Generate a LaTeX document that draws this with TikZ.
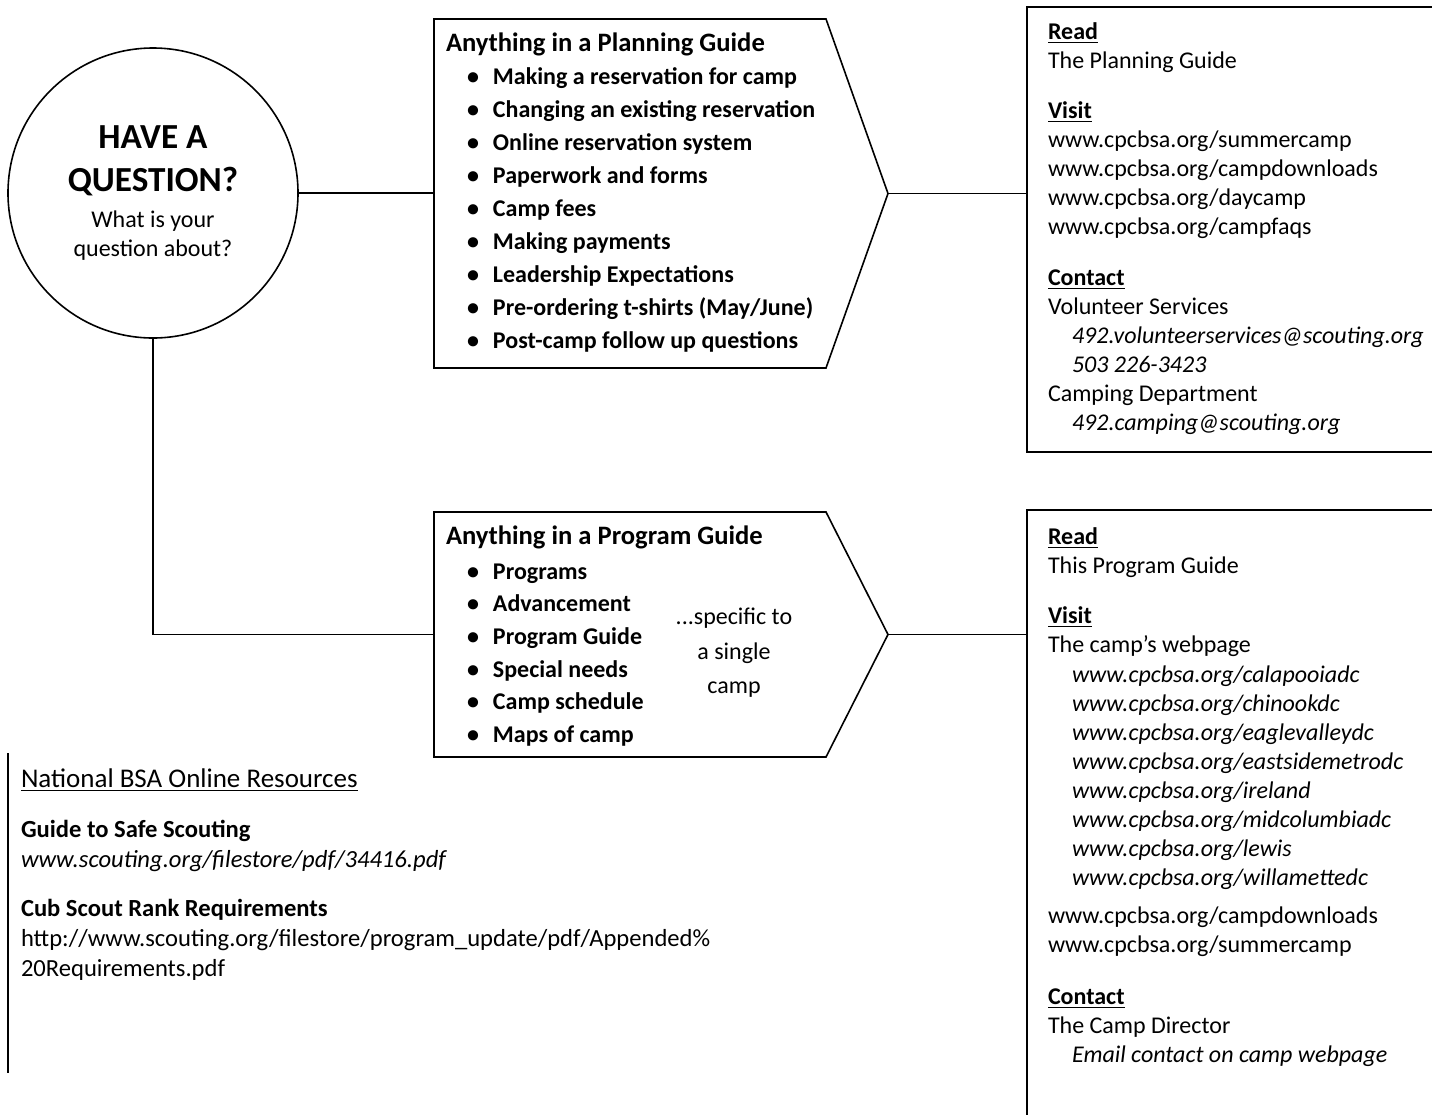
\documentclass[tikz,border=0pt]{standalone}
\usepackage{fontspec}
\setmainfont{Carlito}
\usetikzlibrary{positioning}

\newcommand{\bitem}[1]{\makebox[23.5pt][r]{\textbullet\hspace{7pt}}#1}
\newcommand{\ind}{\hspace*{12pt}}
\newcommand{\head}[1]{\underline{\textbf{#1}}}

\begin{document}
\begin{tikzpicture}[x=0.5pt, y=-0.5pt, line width=0.8pt,
  every node/.style={inner sep=0pt, outer sep=0pt},
  txt/.style={anchor=north west, align=left, font=\fontsize{12pt}{14.5pt}\selectfont},
  guidebox/.style={anchor=north west, minimum width=196pt},
  infobox/.style={draw, anchor=north west, minimum width=210pt}]
  \clip (0,0) rectangle (1432,1115);

  % Question circle
  \node (question) [circle, draw, minimum size=145pt, align=center,
                    font=\fontsize{12pt}{14.5pt}\selectfont] at (153,193)
    {{\fontsize{17.6pt}{21.5pt}\selectfont\bfseries HAVE A}\\[7pt]
     {\fontsize{17.6pt}{21.5pt}\selectfont\bfseries QUESTION?}\\[3.5pt]
     What is your\\
     question about?};

  % Guide boxes (pointed on the right)
  \node (plan)[guidebox, minimum height=174.5pt] at (434,19) {};
  \path (plan.east) ++(62,0) coordinate (plantip);
  \draw (plan.north west) -- (plan.north east) -- (plantip) -- (plan.south east) -- (plan.south west) -- cycle;

  \node (prog)[guidebox, minimum height=122.5pt] at (434,512) {};
  \path (prog.east) ++(62,0) coordinate (progtip);
  \draw (prog.north west) -- (prog.north east) -- (progtip) -- (prog.south east) -- (prog.south west) -- cycle;

  % Guide texts
  \node (plantext)[txt, font=\bfseries\fontsize{12pt}{16.5pt}\selectfont] at (446,33)
    {{\fontsize{13.3pt}{16pt}\selectfont Anything in a Planning Guide}\\
     \bitem{Making a reservation for camp}\\
     \bitem{Changing an existing reservation}\\
     \bitem{Online reservation system}\\
     \bitem{Paperwork and forms}\\
     \bitem{Camp fees}\\
     \bitem{Making payments}\\
     \bitem{Leadership Expectations}\\
     \bitem{Pre-ordering t-shirts (May/June)}\\
     \bitem{Post-camp follow up questions}};

  \node (progtext)[txt, font=\bfseries\fontsize{12pt}{16.3pt}\selectfont] at (446,526)
    {{\fontsize{13.3pt}{16pt}\selectfont Anything in a Program Guide}\\[1pt]
     \bitem{Programs}\\
     \bitem{Advancement}\\
     \bitem{Program Guide}\\
     \bitem{Special needs}\\
     \bitem{Camp schedule}\\
     \bitem{Maps of camp}};

  \node (specific)[anchor=north, align=center, font=\fontsize{12pt}{17.25pt}\selectfont] at (734,608)
    {...specific to\\ a single\\ camp};

  % Info boxes
  \node (planinfo)[infobox, minimum height=222.5pt] at (1027,7) {};
  \node (proginfo)[infobox, minimum height=307.5pt] at (1027,510) {};

  \node (planread)[txt] at (1048,23)
    {\head{Read}\\
     The Planning Guide\\[10.5pt]
     \head{Visit}\\
     www.cpcbsa.org/summercamp\\
     www.cpcbsa.org/campdownloads\\
     www.cpcbsa.org/daycamp\\
     www.cpcbsa.org/campfaqs\\[11pt]
     \head{Contact}\\
     Volunteer Services\\
     \ind\textit{492.volunteerservices@scouting.org}\\
     \ind\textit{503 226-3423}\\
     Camping Department\\
     \ind\textit{492.camping@scouting.org}};

  \node (progread)[txt] at (1048,528)
    {\head{Read}\\
     This Program Guide\\[10.5pt]
     \head{Visit}\\
     The camp’s webpage\\[0.5pt]
     \ind\textit{www.cpcbsa.org/calapooiadc}\\
     \ind\textit{www.cpcbsa.org/chinookdc}\\
     \ind\textit{www.cpcbsa.org/eaglevalleydc}\\
     \ind\textit{www.cpcbsa.org/eastsidemetrodc}\\
     \ind\textit{www.cpcbsa.org/ireland}\\
     \ind\textit{www.cpcbsa.org/midcolumbiadc}\\
     \ind\textit{www.cpcbsa.org/lewis}\\
     \ind\textit{www.cpcbsa.org/willamettedc}\\[4.5pt]
     www.cpcbsa.org/campdownloads\\
     www.cpcbsa.org/summercamp\\[11.5pt]
     \head{Contact}\\
     The Camp Director\\
     \ind\textit{Email contact on camp webpage}};

  % National resources
  \node (natbox)[anchor=north west, minimum width=1pt, minimum height=160pt] at (8,753) {};
  \draw (natbox.north west) -- (natbox.south west);
  \node (natres)[txt, font=\fontsize{12.3pt}{15pt}\selectfont] at (21,769)
    {{\fontsize{13.5pt}{15pt}\selectfont\underline{National BSA Online Resources}}\\[10pt]
     \textbf{Guide to Safe Scouting}\\
     \textit{www.scouting.org/filestore/pdf/34416.pdf}\\[9.5pt]
     \textbf{Cub Scout Rank Requirements}\\
     http://www.scouting.org/filestore/program\_update/pdf/Appended\%\\
     20Requirements.pdf};

  % Connectors
  \draw (question.east) -- (question.east -| plan.west);
  \draw (plantip) -- (plantip -| planinfo.west);
  \draw (question.south) |- (prog.west);
  \draw (progtip) -- (progtip -| proginfo.west);

\end{tikzpicture}
\end{document}
